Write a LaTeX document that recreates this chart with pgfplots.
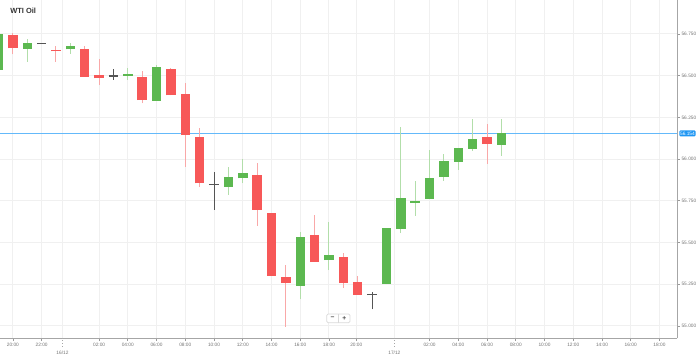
\documentclass[border=0pt]{standalone}
\usepackage{pgfplots}
\pgfplotsset{compat=1.18}
\usepackage{pgfplotstable}
\usepackage{fontspec}
\setmainfont{Liberation Sans}
\definecolor{cgreen}{RGB}{92,184,80}
\definecolor{cred}{RGB}{247,88,88}
\definecolor{cgreenw}{RGB}{178,222,170}
\definecolor{credw}{RGB}{249,168,168}
\definecolor{cgray}{RGB}{85,85,85}
\definecolor{priceblue}{RGB}{100,185,250}
\definecolor{pbox}{RGB}{30,150,243}

% x = candle index (hourly), open high low close
\pgfplotstableread{
x open high low close
0 56.534 56.748 56.534 56.748
2 56.660 56.718 56.584 56.698
5 56.658 56.698 56.630 56.678
9 56.502 56.548 56.474 56.508
11 56.350 56.564 56.350 56.550
16 55.835 55.954 55.785 55.895
17 55.885 55.999 55.855 55.915
21 55.241 55.565 55.160 55.535
23 55.395 55.625 55.335 55.425
27 55.251 55.587 55.251 55.587
28 55.581 56.192 55.557 55.767
29 55.739 55.869 55.659 55.751
30 55.761 56.055 55.761 55.889
31 55.895 56.031 55.869 55.990
32 55.983 56.067 55.935 56.067
33 56.061 56.240 56.050 56.120
35 56.085 56.240 56.020 56.154
}\upcandles

\pgfplotstableread{
x open high low close
1 56.744 56.754 56.628 56.664
4 56.652 56.680 56.582 56.648
6 56.660 56.678 56.494 56.494
7 56.502 56.600 56.444 56.484
10 56.494 56.530 56.334 56.354
12 56.538 56.544 56.382 56.382
13 56.390 56.458 55.954 56.144
14 56.134 56.185 55.835 55.855
18 55.905 55.975 55.601 55.695
19 55.675 55.675 55.301 55.301
20 55.295 55.365 54.996 55.256
22 55.545 55.665 55.383 55.383
24 55.412 55.436 55.226 55.256
25 55.265 55.301 55.186 55.186
34 56.131 56.210 55.971 56.089
}\downcandles

\pgfplotstableread{
x open high low close
3 56.694 56.694 56.694 56.694
8 56.498 56.538 56.474 56.498
15 55.849 55.924 55.695 55.849
26 55.190 55.202 55.100 55.190
}\flatcandles

\pgfplotstableread{
x price
0.104 56.154
47.24 56.154
}\priceline

\pgfplotsset{
  wick/.style={draw=none, mark=none, forget plot,
    error bars/.cd, y dir=plus, y explicit, error mark=none,
    error bar style={draw=#1, line width=0.75pt, solid}},
  body/.style={draw=none, mark=none, forget plot,
    error bars/.cd, y dir=plus, y explicit, error mark=none,
    error bar style={draw=#1, line width=7.1pt, solid}},
}

\newcommand{\wickplot}[2]{%
  \addplot[wick=#2] table[x=x, y=low,
    y error plus expr={\thisrow{high}-\thisrow{low}}] {#1};}
\newcommand{\bodyplot}[2]{%
  \addplot[body=#2] table[x=x,
    y expr={0.5*(\thisrow{open}+\thisrow{close})-0.5*max(abs(\thisrow{open}-\thisrow{close}),0.009)},
    y error plus expr={max(abs(\thisrow{open}-\thisrow{close}),0.009)}] {#1};}

\begin{document}
\begin{tikzpicture}[x=0.75pt, y=0.75pt]
\useasboundingbox (0,-17.7) rectangle (699,338.3);
\begin{axis}[
  at={(0,0)}, anchor=south west,
  scale only axis, width=507.98pt, height=253.73pt,
  xmin=0.104, xmax=47.24, ymin=54.926, ymax=56.9535,
  axis x line*=bottom, axis y line*=right,
  axis line style={draw=black!35, line width=0.75pt},
  clip mode=individual,
  grid=major,
  major grid style={draw=black!6, line width=0.75pt},
  tick align=outside,
  major tick length=2.2pt,
  tick style={draw=black!40, line width=0.5pt},
  /pgf/number format/assume math mode=true,
  ticklabel style={font=\fontsize{3.6}{4}\selectfont, text=black!55},
  xtick={1,3,7,9,11,13,15,17,19,21,23,24.9,30,32,34,36,38,40,42,44,46},
  xticklabels={20:00,22:00,02:00,04:00,06:00,08:00,10:00,12:00,14:00,16:00,18:00,20:00,02:00,04:00,06:00,08:00,10:00,12:00,14:00,16:00,18:00},
  xticklabel style={inner sep=0pt, anchor=north, yshift=-1.2pt},
  extra x ticks={4.45,27.55},
  extra x tick labels={16/12,17/12},
  extra x tick style={major tick length=6.5pt,
    tick style={draw=black!35, dotted, line width=0.5pt},
    xticklabel style={yshift=-1.6pt}},
  ytick={55,55.25,55.5,55.75,56,56.25,56.5,56.75},
  yticklabels={55.000,55.250,55.500,55.750,56.000,56.250,56.500,56.750},
  yticklabel style={inner sep=0pt, anchor=west, xshift=0.8pt},
]
% current price line
\addplot[draw=priceblue, mark=none, solid, line width=0.9pt, forget plot] table[x=x, y=price] {\priceline};
% wicks
\wickplot{\upcandles}{cgreenw}
\wickplot{\downcandles}{credw}
\wickplot{\flatcandles}{cgray}
% bodies
\bodyplot{\upcandles}{cgreen}
\bodyplot{\downcandles}{cred}
\bodyplot{\flatcandles}{cgray}
% price label
\node[anchor=west, fill=pbox, text=white, rounded corners=0.8pt,
      inner xsep=0.6pt, inner ysep=0.9pt, xshift=1.3pt,
      font=\fontsize{3.6}{4}\selectfont] at (axis cs:47.24,56.154) {56.154};
\end{axis}
% title
\node[anchor=west, inner sep=0pt, text=black!80,
      font=\bfseries\fontsize{5.6}{6}\selectfont] at (10,327.6) {WTI Oil};
% zoom buttons
\draw[black!15, fill=white, rounded corners=1pt, line width=0.5pt] (326.7,15.6) rectangle (350,24.3);
\draw[black!15, line width=0.5pt] (338.3,15.6) -- (338.3,24.3);
\node[inner sep=0pt, text=black!70, font=\bfseries\fontsize{5}{5}\selectfont] at (332.5,20) {−};
\node[inner sep=0pt, text=black!70, font=\bfseries\fontsize{5}{5}\selectfont] at (344.2,20) {+};
\end{tikzpicture}
\end{document}
